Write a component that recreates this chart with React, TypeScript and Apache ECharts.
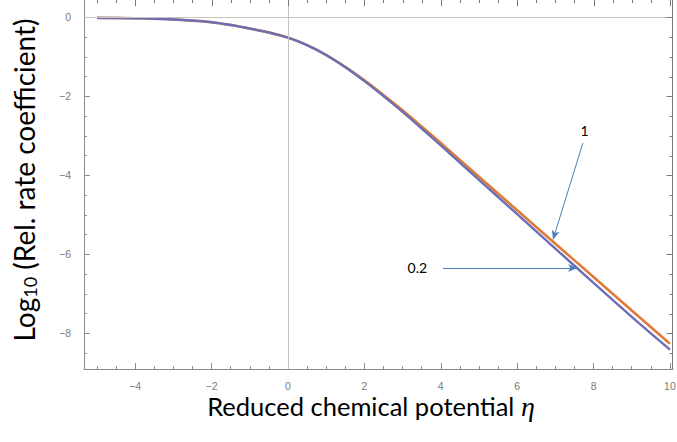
import React, { useEffect, useRef } from "react";
import * as echarts from "echarts";

const etaValues = [-5, -4.5, -4, -3.5, -3, -2.5, -2, -1.5, -1, -0.5, 0, 0.5, 1, 1.5, 2, 2.5, 3, 3.5, 4, 5, 6, 7, 8, 9, 10];
const seriesOne = [-0.01, -0.013, -0.018, -0.03, -0.05, -0.08, -0.12, -0.19, -0.28, -0.38, -0.51, -0.7, -0.95, -1.25, -1.59, -1.96, -2.35, -2.76, -3.18, -4.03, -4.88, -5.73, -6.57, -7.42, -8.26];
const seriesPointTwo = [-0.01, -0.013, -0.018, -0.03, -0.05, -0.08, -0.12, -0.19, -0.28, -0.38, -0.51, -0.7, -0.95, -1.26, -1.61, -1.99, -2.39, -2.81, -3.24, -4.11, -4.98, -5.85, -6.72, -7.58, -8.41];
const xMajorTicks = [-4, -2, 0, 2, 4, 6, 8, 10];
const xMinorTicks = [-5, -4.5, -3.5, -3, -2.5, -1.5, -1, -0.5, 0.5, 1, 1.5, 2.5, 3, 3.5, 4.5, 5, 5.5, 6.5, 7, 7.5, 8.5, 9, 9.5];
const yMajorTicks = [0, -2, -4, -6, -8];
const yMinorTicks = [-0.5, -1, -1.5, -2.5, -3, -3.5, -4.5, -5, -5.5, -6.5, -7, -7.5, -8.5];
const seriesNames = ["1", "0.2"];
// annotation arrows: [tail, tip] in data coordinates
const arrowOne = [[7.72, -3.18], [6.94, -5.62]];
const arrowTwo = [[4.06, -6.34], [7.57, -6.34]];

const X_MIN = -5.34;
const X_MAX = 10.08;
const Y_MIN = -8.9;
const Y_MAX = 0.443;

const fmt = (v: number) => (v < 0 ? "\u2212" + String(-v) : String(v));

export default function App() {
  const ref = useRef<HTMLDivElement>(null);
  useEffect(() => {
    if (!ref.current) return;
    const chart = echarts.init(ref.current, null, { renderer: "svg" });
    const frameColor = "#8c8c8c";
    const mkX = (ticks: number[], len: number, labels: boolean, line: boolean) => ({
      type: "value",
      position: "bottom",
      min: X_MIN,
      max: X_MAX,
      axisLine: { show: line, onZero: false, lineStyle: { color: frameColor, width: 1 } },
      axisTick: { show: true, inside: true, length: len, customValues: ticks, lineStyle: { color: frameColor, width: 1 } },
      axisLabel: labels
        ? { show: true, customValues: ticks, formatter: fmt, color: "#7a7a7a", fontSize: 10.5, fontFamily: "Liberation Sans", margin: 11 }
        : { show: false },
      splitLine: { show: false },
    });
    const mkY = (ticks: number[], len: number, labels: boolean, line: boolean) => ({
      type: "value",
      position: "left",
      min: Y_MIN,
      max: Y_MAX,
      axisLine: { show: line, onZero: false, lineStyle: { color: frameColor, width: 1 } },
      axisTick: { show: true, inside: true, length: len, customValues: ticks, lineStyle: { color: frameColor, width: 1 } },
      axisLabel: labels
        ? { show: true, customValues: ticks, formatter: fmt, color: "#7a7a7a", fontSize: 10.5, fontFamily: "Liberation Sans", margin: 13 }
        : { show: false },
      splitLine: { show: false },
    });
    const dataOne = etaValues.map((x, i) => [x, seriesOne[i]]);
    const dataTwo = etaValues.map((x, i) => [x, seriesPointTwo[i]]);

    const titles: any[] = [
      {
        type: "text",
        x: 371,
        y: 406,
        style: {
          text: "Reduced chemical potential {eta|η}",
          fontSize: 25.5,
          lineHeight: 26,
          fontFamily: "Lato",
          fill: "#000",
          align: "center",
          verticalAlign: "middle",
          rich: {
            eta: { fontSize: 28, lineHeight: 26, fontFamily: "Liberation Serif", fontStyle: "italic", fill: "#000" },
          },
        },
      },
      {
        type: "text",
        x: 24,
        y: 180,
        rotation: Math.PI / 2,
        style: {
          text: "Log{sub|10} (Rel. rate coefficient)",
          fontSize: 28,
          fontFamily: "Lato",
          fill: "#000",
          align: "center",
          verticalAlign: "middle",
          rich: {
            sub: { fontSize: 18, fontFamily: "Lato", fill: "#000", padding: [12, 0, 0, 0] },
          },
        },
      },
    ];

    chart.setOption({
      animation: false,
      grid: { left: 84, right: 4, top: 0, bottom: 73, containLabel: false, outerBoundsMode: "none" },
      xAxis: [mkX(xMajorTicks, 6, true, true), mkX(xMinorTicks, 3, false, false)],
      yAxis: [mkY(yMajorTicks, 6, true, true), mkY(yMinorTicks, 3, false, false)],
      series: [
        {
          type: "line",
          name: "zero",
          data: [],
          z: 1,
          silent: true,
          markLine: {
            silent: true,
            symbol: ["none", "none"],
            label: { show: false },
            lineStyle: { color: "#c4c4c4", width: 1, type: "solid" },
            emphasis: { disabled: true },
            data: [{ yAxis: 0 }, { xAxis: 0 }],
          },
        },
        {
          type: "line",
          name: seriesNames[0],
          data: dataOne,
          smooth: 0.35,
          showSymbol: false,
          z: 3,
          lineStyle: { color: "#e07a38", width: 2.6 },
          itemStyle: { color: "#e07a38" },
        },
        {
          type: "line",
          name: seriesNames[1],
          data: dataTwo,
          smooth: 0.35,
          showSymbol: false,
          z: 4,
          lineStyle: { color: "#6b6fb5", width: 2.4 },
          itemStyle: { color: "#6b6fb5" },
        },
        {
          type: "line",
          name: "arrows",
          data: [],
          z: 5,
          silent: true,
          markLine: {
            silent: true,
            symbol: ["none", "arrow"],
            symbolSize: [6, 9],
            lineStyle: { color: "#4a7ebb", width: 1, type: "solid" },
            emphasis: { disabled: true },
            label: {
              show: true,
              position: "start",
              color: "#000",
              fontSize: 14,
              fontFamily: "Lato",
              distance: 4,
            },
            data: [
              [
                { coord: arrowOne[0], label: { formatter: seriesNames[0], position: "start", distance: 6 } },
                { coord: arrowOne[1] },
              ],
              [
                { coord: arrowTwo[0], label: { formatter: seriesNames[1], position: "start", distance: 16 } },
                { coord: arrowTwo[1] },
              ],
            ],
          },
        },
      ],
      graphic: titles,
    });

    // frame ticks on top and right edges, positioned through the axes' scales
    const frame: any[] = [];
    const addLine = (x1: number, y1: number, x2: number, y2: number) =>
      frame.push({ type: "line", silent: true, z: 10, shape: { x1, y1, x2, y2 }, style: { stroke: "#7a7a7a", lineWidth: 1 } });
    const px = (v: number[]) => chart.convertToPixel({ gridIndex: 0 }, v) as number[];
    const topY = px([X_MIN, Y_MAX])[1];
    const rightX = Math.round(px([X_MAX, Y_MAX])[0]) - 0.5;
    const bottomY = px([X_MAX, Y_MIN])[1];
    xMajorTicks.forEach((v) => {
      const x = Math.round(px([v, Y_MAX])[0]) + 0.5;
      addLine(x, topY, x, topY + 6);
    });
    xMinorTicks.forEach((v) => {
      const x = Math.round(px([v, Y_MAX])[0]) + 0.5;
      addLine(x, topY, x, topY + 3);
    });
    addLine(rightX, topY, rightX, bottomY);
    yMajorTicks.forEach((v) => {
      const y = Math.round(px([X_MAX, v])[1]) + 0.5;
      addLine(rightX, y, rightX - 6, y);
    });
    yMinorTicks.forEach((v) => {
      const y = Math.round(px([X_MAX, v])[1]) + 0.5;
      addLine(rightX, y, rightX - 3, y);
    });
    chart.setOption({ graphic: titles.concat(frame) });

    return () => chart.dispose();
  }, []);
  return <div ref={ref} style={{ position: "absolute", left: 0, top: 0, width: 677, height: 442 }} />;
}
